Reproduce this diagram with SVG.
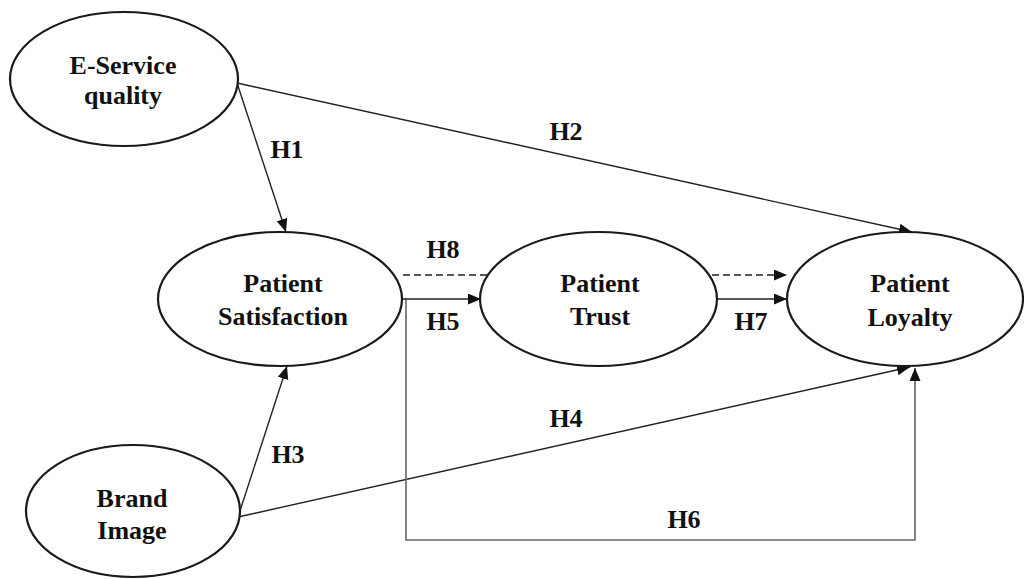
<svg xmlns="http://www.w3.org/2000/svg" width="1024" height="579" viewBox="0 0 1024 579">
<style>
.node ellipse{fill:#fff;stroke:#1a1a1a;stroke-width:2.2}
.lbl{font-family:"Liberation Serif","Times New Roman",serif;font-weight:bold;font-size:26px;fill:#111;text-anchor:middle}
.conn line,.conn path{stroke:#222;stroke-width:1.4;fill:none}
.conn .dash{stroke-dasharray:7,4}
.conn .grey{stroke:#666;stroke-width:1.6}
</style>
<defs>
<marker id="ah" markerUnits="userSpaceOnUse" markerWidth="14" markerHeight="12" refX="13" refY="5.5" orient="auto">
<path d="M0,0 L13,5.5 L0,11 z" fill="#111"/>
</marker>
</defs>
<rect width="1024" height="579" fill="#fff"/>
<g id="connectors" class="conn">
<line x1="237" y1="83" x2="286" y2="232" marker-end="url(#ah)"/>
<line x1="237" y1="83" x2="912" y2="232" marker-end="url(#ah)"/>
<line x1="238" y1="517" x2="287" y2="366" marker-end="url(#ah)"/>
<line x1="238" y1="517" x2="910" y2="367" marker-end="url(#ah)"/>
<path class="grey" d="M406,299 L406,540 L915,540 L915,368" marker-end="url(#ah)"/>
<line x1="403" y1="299" x2="481" y2="299" marker-end="url(#ah)"/>
<line x1="715" y1="299" x2="787" y2="299" marker-end="url(#ah)"/>
<line class="dash" x1="403" y1="275" x2="488" y2="275"/>
<line class="dash" x1="712" y1="275" x2="787" y2="275" marker-end="url(#ah)"/>
<text class="lbl" x="287" y="158">H1</text>
<text class="lbl" x="566" y="140">H2</text>
<text class="lbl" x="288" y="463">H3</text>
<text class="lbl" x="566" y="427">H4</text>
<text class="lbl" x="443" y="330">H5</text>
<text class="lbl" x="684" y="528">H6</text>
<text class="lbl" x="751" y="330">H7</text>
<text class="lbl" x="443" y="258">H8</text>
</g>
<g id="eservice" class="node">
<ellipse cx="124" cy="79" rx="114" ry="67"/>
<text class="lbl" x="123" y="74">E-Service</text>
<text class="lbl" x="123" y="104">quality</text>
</g>
<g id="brand" class="node">
<ellipse cx="133" cy="511" rx="107" ry="66"/>
<text class="lbl" x="132" y="507">Brand</text>
<text class="lbl" x="132" y="539">Image</text>
</g>
<g id="satisfaction" class="node">
<ellipse cx="280" cy="299" rx="122" ry="67"/>
<text class="lbl" x="283" y="292">Patient</text>
<text class="lbl" x="283" y="325">Satisfaction</text>
</g>
<g id="trust" class="node">
<ellipse cx="598.5" cy="299" rx="118.5" ry="67"/>
<text class="lbl" x="600" y="292">Patient</text>
<text class="lbl" x="600" y="325">Trust</text>
</g>
<g id="loyalty" class="node">
<ellipse cx="905" cy="299" rx="118" ry="67"/>
<text class="lbl" x="910" y="292">Patient</text>
<text class="lbl" x="910" y="326">Loyalty</text>
</g>
</svg>
